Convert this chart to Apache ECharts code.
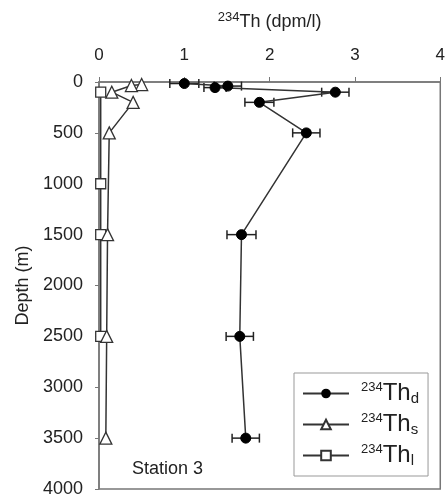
<!DOCTYPE html>
<html>
<head>
<meta charset="utf-8">
<script src="https://cdn.jsdelivr.net/npm/echarts@6/dist/echarts.min.js"></script>
<style>
  html, body { margin: 0; padding: 0; background: #fff; }
  #chart { width: 448px; height: 502px; }
</style>
</head>
<body>
<div id="chart"></div>
<script>
// 234Th profiles, station 3
var depthD = [15, 40, 55, 100, 200, 500, 1500, 2500, 3500];
var thD = [1.00, 1.51, 1.36, 2.77, 1.88, 2.43, 1.67, 1.65, 1.72];
var errD = [0.17, 0.16, 0.13, 0.16, 0.17, 0.16, 0.17, 0.16, 0.16];

var depthS = [25, 35, 100, 200, 500, 1500, 2500, 3500];
var thS = [0.50, 0.38, 0.15, 0.40, 0.12, 0.10, 0.09, 0.08];

var depthL = [100, 1000, 1500, 2500];
var thL = [0.02, 0.02, 0.02, 0.02];

var xTicks = [0, 1, 2, 3, 4];
var yTicks = [0, 500, 1000, 1500, 2000, 2500, 3000, 3500, 4000];

var FONT = "'Liberation Sans', Arial, sans-serif";

function pairs(xs, ys) {
  return xs.map(function (x, i) { return [x, ys[i]]; });
}

var el = document.getElementById("chart");
var em = echarts.init(el, null, { renderer: "canvas" });

var option = {
  backgroundColor: "#fff",
  animation: false,
  textStyle: { fontFamily: FONT },
  grid: {
    left: 99,
    right: 5,
    top: 82,
    bottom: 13,
    show: true,
    borderColor: "#777",
    borderWidth: 1.5
  },
  xAxis: {
    type: "value",
    position: "top",
    min: xTicks[0],
    max: xTicks[xTicks.length - 1],
    interval: 1,
    name: "{sup|234}{b|Th (dpm/l)}",
    nameLocation: "middle",
    nameGap: 49,
    nameMoveOverlap: false,
    nameTextStyle: {
      rich: {
        sup: { fontSize: 13, color: "#222", fontFamily: FONT, verticalAlign: "top", lineHeight: 22 },
        b: { fontSize: 18, color: "#222", fontFamily: FONT, lineHeight: 22 }
      }
    },
    axisLine: { show: true, lineStyle: { color: "#777", width: 1.5 } },
    axisTick: { show: true, length: 5, lineStyle: { color: "#777" } },
    axisLabel: { color: "#222", fontSize: 17, margin: 18, fontFamily: FONT },
    splitLine: { show: false }
  },
  yAxis: {
    type: "value",
    inverse: true,
    min: yTicks[0],
    max: yTicks[yTicks.length - 1],
    interval: 500,
    name: "Depth (m)",
    nameLocation: "middle",
    nameGap: 67,
    nameMoveOverlap: false,
    nameTextStyle: { color: "#222", fontSize: 18, fontFamily: FONT },
    axisLine: { show: true, lineStyle: { color: "#777", width: 1.5 } },
    axisTick: { show: true, length: 4, lineStyle: { color: "#777" } },
    axisLabel: {
      color: "#222",
      fontSize: 18,
      margin: 16,
      fontFamily: FONT,
      formatter: function (v) { return String(v); }
    },
    splitLine: { show: false }
  },
  legend: {
    orient: "vertical",
    left: 294,
    top: 373,
    padding: [8, 9, 8, 8],
    borderColor: "#999",
    borderWidth: 1,
    itemWidth: 46,
    itemHeight: 12,
    itemGap: 6,
    data: ["Thd", "Ths", "Thl"],
    formatter: function (name) {
      return "{sup|234}{th|Th}{sub|" + name.slice(2) + "}";
    },
    textStyle: {
      rich: {
        sup: { fontSize: 13, color: "#222", fontFamily: FONT, verticalAlign: "top", lineHeight: 25, padding: [0, 0, 0, 7] },
        th: { fontSize: 24, color: "#222", fontFamily: FONT, lineHeight: 25 },
        sub: { fontSize: 15, color: "#222", fontFamily: FONT, verticalAlign: "bottom", lineHeight: 25 }
      }
    }
  },
  graphic: [
    {
      type: "text",
      left: 132,
      top: 460,
      style: { text: "Station 3", font: "18px " + FONT, fill: "#222" }
    }
  ],
  series: [
    {
      name: "errD",
      type: "custom",
      z: 1,
      silent: true,
      data: depthD.map(function (d, i) { return [thD[i] - errD[i], thD[i] + errD[i], d]; }),
      encode: { x: [0, 1], y: 2 },
      renderItem: function (params, api) {
        var a = api.coord([api.value(0), api.value(2)]);
        var b = api.coord([api.value(1), api.value(2)]);
        var h = 4.5;
        var st = { stroke: "#222", lineWidth: 1.5 };
        return {
          type: "group",
          children: [
            { type: "line", shape: { x1: a[0], y1: a[1], x2: b[0], y2: b[1] }, style: st },
            { type: "line", shape: { x1: a[0], y1: a[1] - h, x2: a[0], y2: a[1] + h }, style: st },
            { type: "line", shape: { x1: b[0], y1: b[1] - h, x2: b[0], y2: b[1] + h }, style: st }
          ]
        };
      }
    },
    {
      name: "Thl",
      type: "line",
      z: 2,
      data: pairs(thL, depthL),
      symbol: "rect",
      symbolSize: 10,
      lineStyle: { color: "#333", width: 1.5 },
      itemStyle: { color: "#fff", borderColor: "#333", borderWidth: 1.3 }
    },
    {
      name: "Ths",
      type: "line",
      z: 3,
      data: pairs(thS, depthS),
      symbol: "triangle",
      symbolSize: 12,
      lineStyle: { color: "#333", width: 1.5 },
      itemStyle: { color: "#fff", borderColor: "#333", borderWidth: 1.3 }
    },
    {
      name: "Thd",
      type: "line",
      z: 4,
      data: pairs(thD, depthD),
      symbol: "circle",
      symbolSize: 10,
      lineStyle: { color: "#333", width: 1.5 },
      itemStyle: { color: "#000", borderColor: "#000" }
    }
  ]
};

em.setOption(option);
</script>
</body>
</html>
